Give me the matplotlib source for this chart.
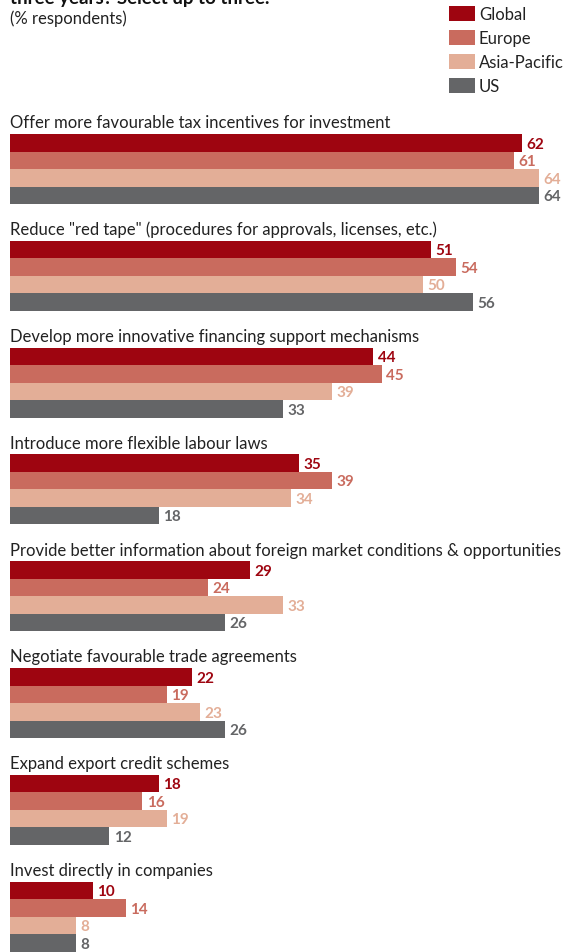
import matplotlib.pyplot as plt
from matplotlib.patches import Rectangle

plt.rcParams['font.family'] = ['Lato', 'DejaVu Sans']

questions = [
    'Offer more favourable tax incentives for investment',
    'Reduce "red tape" (procedures for approvals, licenses, etc.)',
    'Develop more innovative financing support mechanisms',
    'Introduce more flexible labour laws',
    'Provide better information about foreign market conditions & opportunities',
    'Negotiate favourable trade agreements',
    'Expand export credit schemes',
    'Invest directly in companies',
]
regions = ['Global', 'Europe', 'Asia-Pacific', 'US']
global_vals = [62, 51, 44, 35, 29, 22, 18, 10]
europe_vals = [61, 54, 45, 39, 24, 19, 16, 14]
asia_vals = [64, 50, 39, 34, 33, 23, 19, 8]
us_vals = [64, 56, 33, 18, 26, 26, 12, 8]
colors = ['#9e0510', '#c96b5e', '#e3ae97', '#646567']

W, H = 567, 953
fig = plt.figure(figsize=(W / 100, H / 100), dpi=100)

# axes in pixel rows vertically, percent horizontally
left = 10
px_per_pct = 8.26
ax = fig.add_axes([left / W, 0, 1 - left / W, 1])
ax.set_xlim(0, (W - left) / px_per_pct)
ax.set_ylim(H, 0)
ax.axis('off')

top0, gap, bar_h = 135, 106.8, 17.5
series = [global_vals, europe_vals, asia_vals, us_vals]
for i, q in enumerate(questions):
    g_top = top0 + i * gap
    ax.text(0, g_top - 3.5, q, fontsize=12, color='#222222', va='bottom', ha='left')
    for j, vals in enumerate(series):
        y = g_top + j * bar_h
        ax.barh(y, vals[i], height=bar_h, align='edge', color=colors[j], linewidth=0)
        ax.text(vals[i] + 0.55, y + bar_h / 2 + 0.8, str(vals[i]), fontsize=11,
                fontweight='bold', color=colors[j], va='center', ha='left')

# title (partly cropped) and subtitle
fig.text(10 / W, 1 - 4 / H, 'three years? Select up to three.', fontsize=13.5,
         fontweight='bold', color='#111111', va='baseline', ha='left')
fig.text(10 / W, 1 - 19 / H, '(% respondents)', fontsize=12, color='#222222',
         va='center', ha='left')

# legend
for j, name in enumerate(regions):
    y_top = 7 + j * 24
    fig.patches.append(Rectangle((449 / W, 1 - (y_top + 15) / H), 26 / W, 15 / H,
                                 transform=fig.transFigure, color=colors[j], linewidth=0))
    fig.text(479 / W, 1 - (y_top + 8) / H, name, fontsize=12, color='#222222',
             va='center', ha='left')

fig.savefig('out.png', dpi=100)
